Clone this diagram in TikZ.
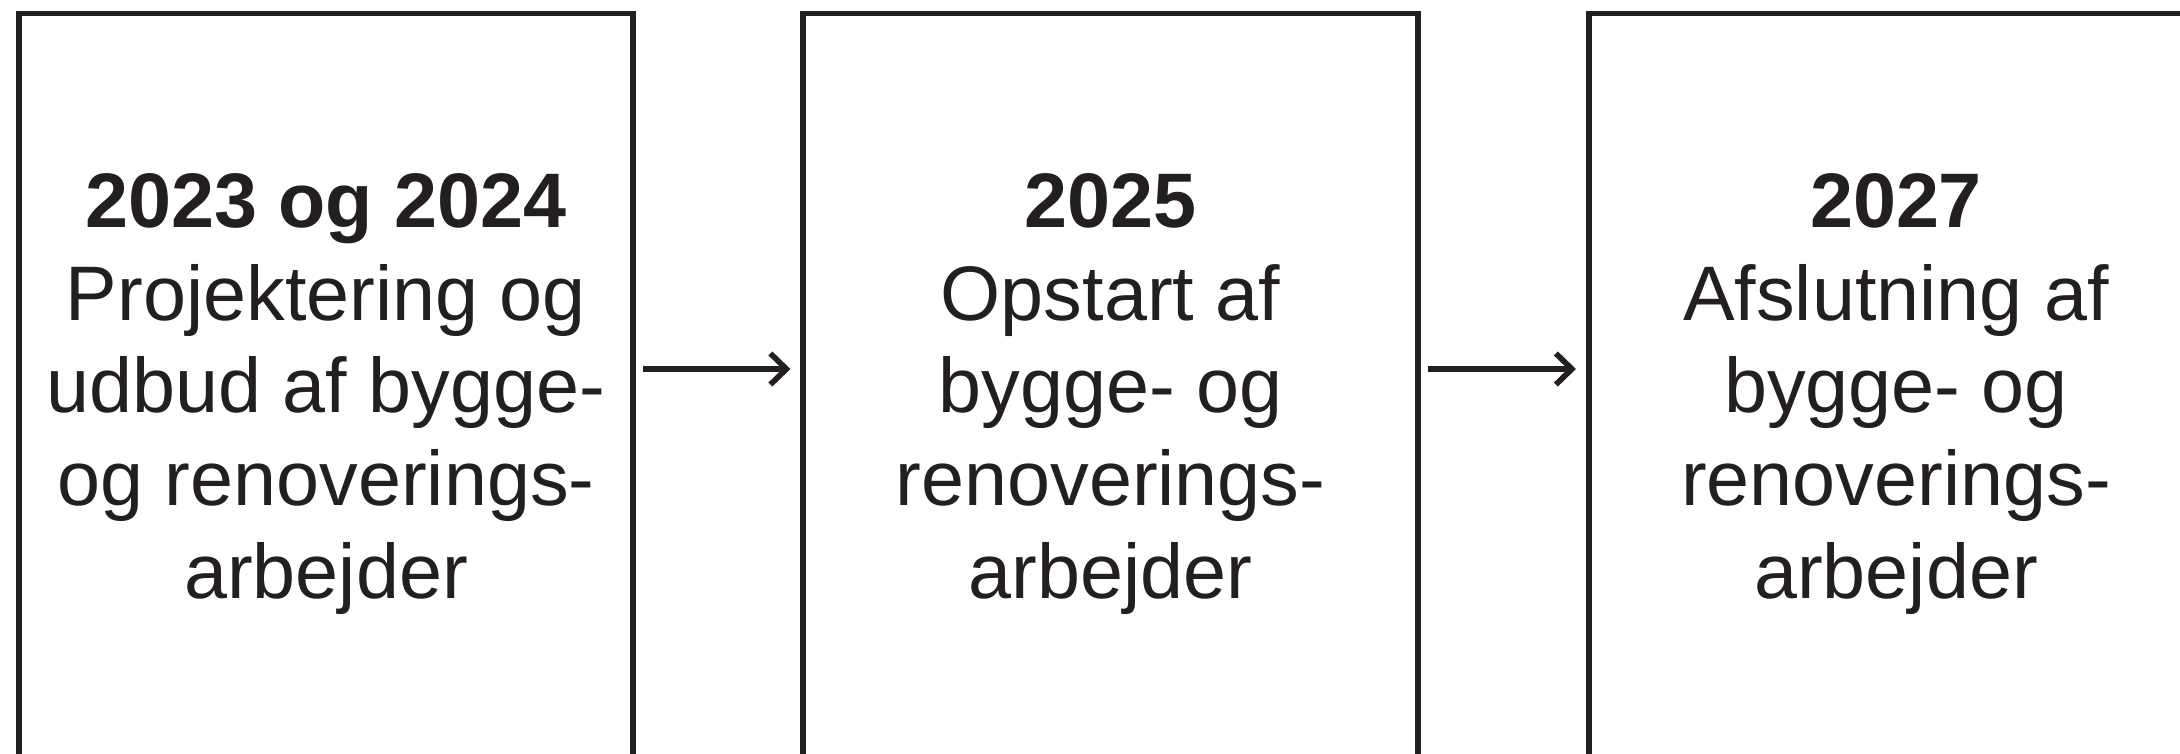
\documentclass[tikz,border=0pt]{standalone}
\usepackage{fontspec}
\setmainfont{Liberation Sans}
\usepackage{tikz}
\usetikzlibrary{arrows.meta}
\definecolor{ink}{HTML}{231F20}
\tikzset{
  stage/.style={draw=ink, line width=1.6pt, rectangle, minimum width=6.145cm, minimum height=7.61cm,
    align=center, text=ink, font=\fontsize{22pt}{26.4pt}\selectfont},
  flow/.style={draw=ink, line width=1.6pt, -{Straight Barb[length=1.6mm,width=3.1mm,line width=1.6pt]},
    shorten <=0.07cm, shorten >=0.1cm}
}
\newcommand{\stagetext}[2]{\textbf{#1}\\#2}
\begin{document}
\begin{tikzpicture}

        \useasboundingbox (0,0) rectangle (21.8,7.53);
        \clip (0,0) rectangle (21.8,7.53);

        % stages
        \node[stage] (s1) at (3.26,3.59) {\stagetext{2023 og 2024}{Projektering og\\udbud af bygge-\\og renoverings-\\arbejder}};
        \node[stage] (s2) at (11.105,3.59) {\stagetext{2025}{Opstart af\\bygge- og\\renoverings-\\arbejder}};
        \node[stage] (s3) at (18.96,3.59) {\stagetext{2027}{Afslutning af\\bygge- og\\renoverings-\\arbejder}};

        % arrows
        \draw[flow] ([yshift=0.25cm]s1.east) -- ([yshift=0.25cm]s2.west);
        \draw[flow] ([yshift=0.25cm]s2.east) -- ([yshift=0.25cm]s3.west);

\end{tikzpicture}
\end{document}
